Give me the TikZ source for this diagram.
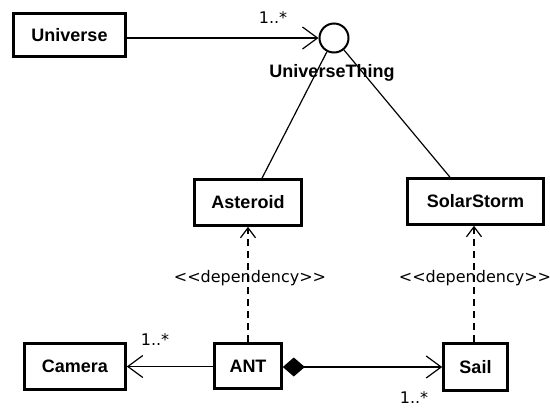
\documentclass[tikz,border=0pt]{standalone}
\usepackage{fontspec}
\setmainfont{Liberation Sans}
\newfontfamily\smallfont{DejaVu Sans}
\usetikzlibrary{arrows.meta}
\begin{document}
\begin{tikzpicture}[x=1pt,y=-1pt,
  cls/.style={draw, line width=2.6pt, inner sep=0pt, fill=white,
    font=\fontsize{18}{20}\selectfont\bfseries},
  iface/.style={circle, draw, line width=2pt, minimum size=29pt, inner sep=0pt, fill=white},
  ifacelbl/.style={font=\fontsize{18}{20}\selectfont\bfseries, anchor=base, inner sep=0pt},
  assoc/.style={line width=1.2pt},
  navarrow/.style={assoc, -{Straight Barb[length=15pt,width=22pt,line width=1.2pt]}},
  compose/.style={assoc, {Diamond[length=22pt,width=19pt]}-{Straight Barb[length=15pt,width=22pt,line width=1.2pt]}},
  dep/.style={line width=1.2pt, dash pattern=on 7pt off 5pt,
    -{Straight Barb[length=10pt,width=15pt,line width=1.2pt]}},
  smalltxt/.style={font=\smallfont\fontsize{16}{18}\selectfont, inner sep=0pt},
]
\useasboundingbox (0,0) rectangle (550,408);
\fill[white] (0,0) rectangle (550,408);

% classes
\node[cls, minimum width=112pt, minimum height=43pt] (univ) at (69.5,35) {Universe};
\node[cls, minimum width=107pt, minimum height=46pt] (ast) at (248,202.5) {Asteroid};
\node[cls, minimum width=136pt, minimum height=46pt] (storm) at (475.5,201.5) {SolarStorm};
\node[cls, minimum width=101pt, minimum height=46pt] (cam) at (75,366.5) {Camera};
\node[cls, minimum width=67pt, minimum height=45pt] (ant) at (248,366) {ANT};
\node[cls, minimum width=64pt, minimum height=47pt] (sail) at (475.5,367) {Sail};

% interface (lollipop)
\node[iface] (thing) at (334,38) {};
\node[ifacelbl] (thinglbl) at (332,77) {UniverseThing};

% realisations of the interface
\draw[assoc] (thing) -- ([xshift=14pt]ast.north);
\draw[assoc] (thing) -- ([xshift=-25.5pt]storm.north);

% associations
\draw[navarrow] (univ.east |- thing) -- (thing.west);
\node[smalltxt] (m1) at (273,18) {1..*};

\draw[navarrow] (ant.west |- cam) -- (cam.east);
\node[smalltxt] (m2) at (155,340) {1..*};

\draw[compose] (ant.east |- sail) -- (sail.west);
\node[smalltxt] (m3) at (414,398) {1..*};

% dependencies
\draw[dep] (ant.north) -- (ast.south);
\node[smalltxt] (d1) at (250,278) {<<dependency>>};
\draw[dep] ([xshift=-1.5pt]sail.north) -- ([xshift=-1.5pt]storm.south);
\node[smalltxt] (d2) at (475,278) {<<dependency>>};
\end{tikzpicture}
\end{document}
